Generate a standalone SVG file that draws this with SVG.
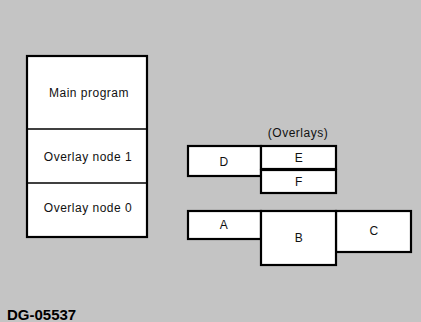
<svg xmlns="http://www.w3.org/2000/svg" width="421" height="322" viewBox="0 0 421 322">
<style>
.box{fill:#ffffff;stroke:#000;stroke-width:2.2}
.div{stroke:#000;stroke-width:1.3;fill:none}
.lbl{font-family:"Liberation Sans",Arial,sans-serif;font-size:12px;letter-spacing:0.5px;fill:#111;text-anchor:middle}
.id{font-family:"Liberation Sans",Arial,sans-serif;font-size:15px;font-weight:bold;fill:#000}
</style>
<rect width="421" height="322" fill="#c4c4c4"/>
<g id="memory">
<rect class="box" x="27" y="56" width="120" height="181"/>
<line class="div" x1="27" y1="129" x2="147" y2="129"/>
<line class="div" x1="27" y1="183" x2="147" y2="183"/>
</g>
<g id="main-program"><text class="lbl" x="89" y="97">Main program</text></g>
<g id="overlay-node-1"><text class="lbl" x="88" y="161">Overlay node 1</text></g>
<g id="overlay-node-0"><text class="lbl" x="88" y="212">Overlay node 0</text></g>
<g id="overlays-label"><text class="lbl" x="298" y="137">(Overlays)</text></g>
<g id="node-D"><rect class="box" x="188" y="146" width="73" height="30"/><text class="lbl" x="224" y="166">D</text></g>
<g id="node-E"><rect class="box" x="261" y="146" width="75" height="23"/><text class="lbl" x="299" y="162">E</text></g>
<g id="node-F"><rect class="box" x="261" y="170" width="75" height="23"/><text class="lbl" x="299" y="186">F</text></g>
<g id="node-A"><rect class="box" x="188" y="211" width="73" height="28"/><text class="lbl" x="224" y="229">A</text></g>
<g id="node-C"><rect class="box" x="336" y="211" width="75" height="41"/><text class="lbl" x="374" y="235">C</text></g>
<g id="node-B"><rect class="box" x="261" y="211" width="75" height="54"/><text class="lbl" x="299" y="242">B</text></g>
<g id="connectors"></g>
<text class="id" x="7" y="320">DG-05537</text>
</svg>
